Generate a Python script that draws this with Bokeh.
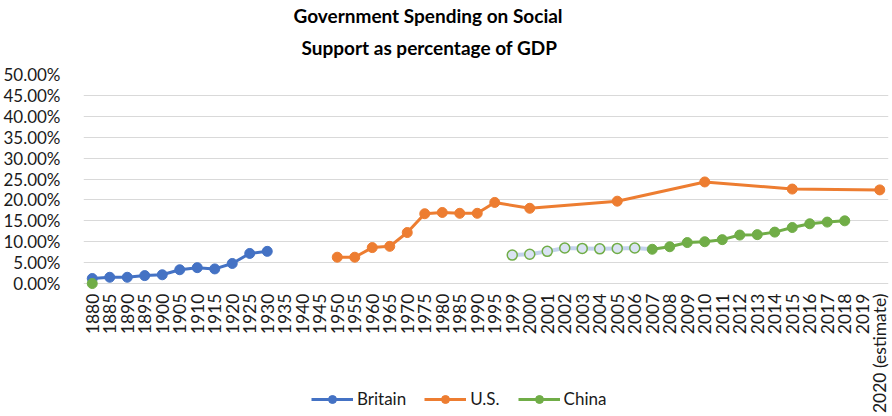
from bokeh.plotting import figure
from bokeh.models import (FactorRange, Range1d, FixedTicker, NumeralTickFormatter,
                          Legend, LegendItem, Title)
from bokeh.core.properties import value
from bokeh.embed import file_html
from bokeh.resources import INLINE
import math

# ---------------- data ----------------
years = ["1880", "1885", "1890", "1895", "1900", "1905", "1910", "1915", "1920", "1925",
         "1930", "1935", "1940", "1945", "1950", "1955", "1960", "1965", "1970", "1975",
         "1980", "1985", "1990", "1995", "1999", "2000", "2001", "2002", "2003", "2004",
         "2005", "2006", "2007", "2008", "2009", "2010", "2011", "2012", "2013", "2014",
         "2015", "2016", "2017", "2018", "2019", "2020 (estimate)"]

britain_years = ["1880", "1885", "1890", "1895", "1900", "1905", "1910", "1915", "1920", "1925", "1930"]
britain = [0.012, 0.015, 0.015, 0.019, 0.021, 0.033, 0.038, 0.035, 0.048, 0.072, 0.077]

us_years = ["1950", "1955", "1960", "1965", "1970", "1975", "1980", "1985", "1990", "1995",
            "2000", "2005", "2010", "2015", "2020 (estimate)"]
us = [0.063, 0.063, 0.086, 0.089, 0.122, 0.167, 0.170, 0.168, 0.168, 0.194,
      0.180, 0.197, 0.243, 0.226, 0.224]

china_early_years = ["1880"]
china_early = [0.0]

china_light_years = ["1999", "2000", "2001", "2002", "2003", "2004", "2005", "2006"]
china_light = [0.068, 0.070, 0.077, 0.085, 0.084, 0.083, 0.084, 0.085]

china_years = ["2007", "2008", "2009", "2010", "2011", "2012", "2013", "2014", "2015",
               "2016", "2017", "2018"]
china = [0.082, 0.088, 0.098, 0.100, 0.105, 0.116, 0.117, 0.123, 0.134, 0.143, 0.147, 0.150]

y_ticks = [0.0, 0.05, 0.10, 0.15, 0.20, 0.25, 0.30, 0.35, 0.40, 0.45, 0.50]

title_line1 = "Government Spending on Social"
title_line2 = "Support as percentage of GDP"

# ---------------- style ----------------
FONT = "Lato"
TXT = "#1a1a1a"
BLUE = "#4472C4"
ORANGE = "#ED7D31"
GREEN = "#70AD47"

# frame spans from 50% down to the bottom of the figure so that the category
# labels and the legend can be drawn inside it
p = figure(width=892, height=416, x_range=FactorRange(factors=years, range_padding=0),
           y_range=Range1d(-0.318, 0.5), output_backend="svg", toolbar_location=None,
           min_border_left=80, min_border_right=4, min_border_top=74, min_border_bottom=0)
p.title.visible = False
p.outline_line_color = None
p.background_fill_color = "white"
p.border_fill_color = "white"

# titles
p.add_layout(Title(text=title_line2, align="left", text_font=FONT, text_font_size="19px",
                   text_font_style="bold", text_color="black", offset=218, standoff=32), "above")
p.add_layout(Title(text=title_line1, align="left", text_font=FONT, text_font_size="19px",
                   text_font_style="bold", text_color="black", offset=210, standoff=-18), "above")

# axes
p.yaxis.ticker = FixedTicker(ticks=y_ticks)
p.yaxis.formatter = NumeralTickFormatter(format="0.00%")
p.yaxis.axis_line_color = None
p.yaxis.major_tick_line_color = None
p.yaxis.minor_tick_line_color = None
p.yaxis.major_label_text_font = FONT
p.yaxis.major_label_text_font_size = "17px"
p.yaxis.major_label_text_color = TXT
p.yaxis.major_label_standoff = 17

p.xaxis.visible = False
p.xgrid.grid_line_color = None
p.ygrid.grid_line_color = "#d9d9d9"
p.ygrid.grid_line_width = 1

# category labels, written vertically below the 0% line
p.text(x=years, y=[-0.024] * len(years), text=years, angle=math.pi / 2,
       text_align="right", text_baseline="middle", text_font=value(FONT),
       text_font_size="17.5px", text_color=TXT)

# series
bl = p.line(britain_years, britain, line_color=BLUE, line_width=3)
bs = p.scatter(britain_years, britain, size=10, fill_color=BLUE, line_color=BLUE)

ul = p.line(us_years, us, line_color=ORANGE, line_width=3)
us_s = p.scatter(us_years, us, size=10, fill_color=ORANGE, line_color=ORANGE)

light_x = china_light_years + china_years[:1]
light_y = china_light + china[:1]
p.line(light_x, light_y, line_color="#b4c7e7", line_width=4, line_alpha=0.8)
p.scatter(china_light_years, china_light, size=10, fill_color="#dae3f3",
          line_color=GREEN, line_width=1.5)

cl = p.line(china_years, china, line_color=GREEN, line_width=3)
cs = p.scatter(china_years, china, size=10, fill_color=GREEN, line_color=GREEN)
p.scatter(china_early_years, china_early, size=10, fill_color=GREEN, line_color=GREEN)

legend = Legend(items=[LegendItem(label="Britain", renderers=[bl, bs]),
                       LegendItem(label="U.S.", renderers=[ul, us_s]),
                       LegendItem(label="China", renderers=[cl, cs])],
                location=(228, 7), orientation="horizontal",
                label_text_font=FONT, label_text_font_size="17px", label_text_color=TXT,
                glyph_width=42, glyph_height=20, label_standoff=4, spacing=18,
                padding=0, margin=0, border_line_color=None, background_fill_alpha=0)
p.add_layout(legend)

open("out.html", "w").write(file_html(p, INLINE))
